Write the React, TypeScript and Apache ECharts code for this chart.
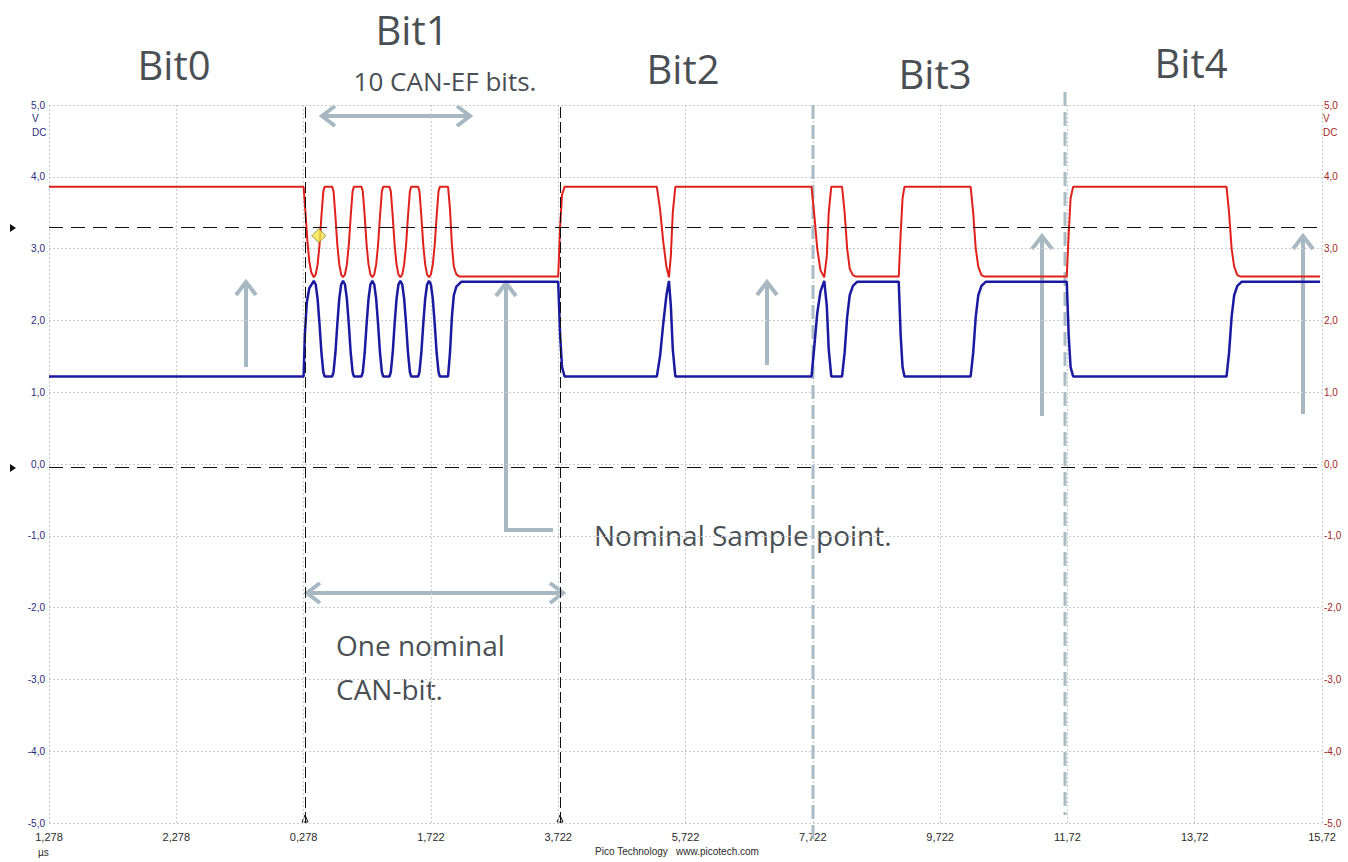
import React, { useEffect, useRef } from "react";
import * as echarts from "echarts";

// Time axis: microseconds from the left edge of the screen (10 divisions of 2 µs)
const timeTickLabels = ["1,278", "2,278", "0,278", "1,722", "3,722", "5,722", "7,722", "9,722", "11,72", "13,72", "15,72"];

// CAN-H (red) trace, [time µs, volts]
const canHigh: [number, number][] = [
  [0, 3.86], [4.0, 3.86], [4.03, 3.5], [4.06, 3.1], [4.09, 2.82], [4.12, 2.67], [4.16, 2.6],
  [4.19, 2.64], [4.22, 2.78], [4.25, 3.05], [4.28, 3.45], [4.31, 3.8], [4.33, 3.86],
  [4.45, 3.86], [4.47, 3.8], [4.5, 3.45], [4.53, 3.05], [4.56, 2.78], [4.59, 2.64], [4.62, 2.6],
  [4.65, 2.64], [4.68, 2.78], [4.71, 3.05], [4.74, 3.45], [4.77, 3.8], [4.79, 3.86],
  [4.91, 3.86], [4.93, 3.8], [4.96, 3.45], [4.99, 3.05], [5.02, 2.78], [5.05, 2.64], [5.08, 2.6],
  [5.11, 2.64], [5.14, 2.78], [5.17, 3.05], [5.2, 3.45], [5.23, 3.8], [5.25, 3.86],
  [5.35, 3.86], [5.37, 3.8], [5.4, 3.45], [5.43, 3.05], [5.46, 2.78], [5.49, 2.64], [5.52, 2.6],
  [5.55, 2.64], [5.58, 2.78], [5.61, 3.05], [5.64, 3.45], [5.67, 3.8], [5.69, 3.86],
  [5.8, 3.86], [5.82, 3.8], [5.85, 3.45], [5.88, 3.05], [5.91, 2.78], [5.94, 2.64], [5.97, 2.6],
  [6.0, 2.64], [6.03, 2.78], [6.06, 3.05], [6.09, 3.45], [6.12, 3.8], [6.14, 3.86],
  [6.27, 3.86], [6.3, 3.55], [6.33, 3.05], [6.36, 2.75], [6.4, 2.64], [6.45, 2.61],
  [8.0, 2.61], [8.03, 3.3], [8.06, 3.75], [8.1, 3.86],
  [9.55, 3.86], [9.6, 3.55], [9.65, 3.1], [9.7, 2.75], [9.74, 2.6], [9.77, 2.9], [9.8, 3.5], [9.84, 3.86],
  [11.98, 3.86], [12.02, 3.5], [12.07, 3.0], [12.12, 2.7], [12.18, 2.6], [12.22, 2.9], [12.25, 3.5], [12.29, 3.86],
  [12.46, 3.86], [12.5, 3.5], [12.54, 3.0], [12.58, 2.72], [12.63, 2.63], [12.68, 2.61],
  [13.35, 2.61], [13.38, 3.2], [13.41, 3.7], [13.44, 3.86],
  [14.48, 3.86], [14.52, 3.5], [14.56, 3.0], [14.6, 2.75], [14.65, 2.63], [14.7, 2.61],
  [15.99, 2.61], [16.02, 3.2], [16.05, 3.7], [16.09, 3.86],
  [18.5, 3.86], [18.54, 3.5], [18.58, 3.0], [18.62, 2.75], [18.67, 2.63], [18.72, 2.61],
  [19.97, 2.61],
];

// CAN-L (blue) trace, [time µs, volts]
const canLow: [number, number][] = [
  [0, 1.22], [4.0, 1.22], [4.02, 1.8], [4.05, 2.25], [4.09, 2.45], [4.16, 2.55],
  [4.19, 2.5], [4.22, 2.3], [4.25, 1.95], [4.28, 1.55], [4.31, 1.28], [4.33, 1.22],
  [4.45, 1.22], [4.47, 1.28], [4.5, 1.55], [4.53, 1.95], [4.56, 2.3], [4.59, 2.5], [4.62, 2.55],
  [4.65, 2.5], [4.68, 2.3], [4.71, 1.95], [4.74, 1.55], [4.77, 1.28], [4.79, 1.22],
  [4.91, 1.22], [4.93, 1.28], [4.96, 1.55], [4.99, 1.95], [5.02, 2.3], [5.05, 2.5], [5.08, 2.55],
  [5.11, 2.5], [5.14, 2.3], [5.17, 1.95], [5.2, 1.55], [5.23, 1.28], [5.25, 1.22],
  [5.35, 1.22], [5.37, 1.28], [5.4, 1.55], [5.43, 1.95], [5.46, 2.3], [5.49, 2.5], [5.52, 2.55],
  [5.55, 2.5], [5.58, 2.3], [5.61, 1.95], [5.64, 1.55], [5.67, 1.28], [5.69, 1.22],
  [5.8, 1.22], [5.82, 1.28], [5.85, 1.55], [5.88, 1.95], [5.91, 2.3], [5.94, 2.5], [5.97, 2.55],
  [6.0, 2.5], [6.03, 2.3], [6.06, 1.95], [6.09, 1.55], [6.12, 1.28], [6.14, 1.22],
  [6.27, 1.22], [6.3, 1.55], [6.33, 2.05], [6.36, 2.35], [6.4, 2.47], [6.48, 2.54],
  [8.0, 2.54], [8.03, 1.8], [8.06, 1.35], [8.1, 1.22],
  [9.55, 1.22], [9.6, 1.5], [9.65, 1.95], [9.7, 2.35], [9.74, 2.55], [9.77, 2.2], [9.8, 1.6], [9.84, 1.22],
  [11.98, 1.22], [12.02, 1.6], [12.07, 2.1], [12.12, 2.4], [12.18, 2.55], [12.22, 2.2], [12.25, 1.6], [12.29, 1.22],
  [12.46, 1.22], [12.5, 1.55], [12.54, 2.05], [12.58, 2.35], [12.63, 2.48], [12.7, 2.54],
  [13.35, 2.54], [13.38, 1.8], [13.41, 1.35], [13.44, 1.22],
  [14.48, 1.22], [14.52, 1.55], [14.56, 2.05], [14.6, 2.35], [14.65, 2.48], [14.72, 2.54],
  [15.99, 2.54], [16.02, 1.8], [16.05, 1.35], [16.09, 1.22],
  [18.5, 1.22], [18.54, 1.55], [18.58, 2.05], [18.62, 2.35], [18.67, 2.48], [18.74, 2.54],
  [19.97, 2.54],
];

// Trigger / threshold horizontal dashed lines (volts) and time cursors (µs)
const thresholdLevels = [3.3, -0.04];
const cursorTimes = [4.02, 8.03];
const triggerPoint: [number, number] = [4.24, 3.18];

const fmtVolt = (v: number) => v.toFixed(1).replace(".", ",");

const ARROW = "#a7b8c2";
const TXT = "#4a4f54";

function upArrow(x: number, yTop: number, yBottom: number) {
  return [
    { type: "line", shape: { x1: x, y1: yTop + 2, x2: x, y2: yBottom }, style: { stroke: ARROW, lineWidth: 4 } },
    { type: "polyline", shape: { points: [[x - 10, yTop + 13], [x, yTop], [x + 10, yTop + 13]] }, style: { stroke: ARROW, lineWidth: 4, fill: null } },
  ];
}
function doubleArrow(x1: number, x2: number, y: number) {
  return [
    { type: "line", shape: { x1: x1 + 2, y1: y, x2: x2 - 2, y2: y }, style: { stroke: ARROW, lineWidth: 4 } },
    { type: "polyline", shape: { points: [[x1 + 13, y - 10], [x1, y], [x1 + 13, y + 10]] }, style: { stroke: ARROW, lineWidth: 4, fill: null } },
    { type: "polyline", shape: { points: [[x2 - 13, y - 10], [x2, y], [x2 - 13, y + 10]] }, style: { stroke: ARROW, lineWidth: 4, fill: null } },
  ];
}
function bigText(text: string, x: number, y: number, size: number, align = "center") {
  return {
    type: "text", x, y,
    style: { text, fill: TXT, font: `${size}px "Open Sans", sans-serif`, align, verticalAlign: "middle" },
  };
}
function smallText(text: string, x: number, y: number, color: string, align = "left") {
  return {
    type: "text", x, y,
    style: { text, fill: color, font: `10px "Liberation Sans", Arial, sans-serif`, align, verticalAlign: "middle" },
  };
}

export default function App() {
  const ref = useRef<HTMLDivElement>(null);
  useEffect(() => {
    if (!ref.current) return;
    const chart = echarts.init(ref.current, undefined, { renderer: "svg" });
    const gridLine = { show: true, lineStyle: { color: "#c9cdd2", type: [2, 2], width: 1 } };
    const option: any = {
      animation: false,
      backgroundColor: "#ffffff",
      grid: { left: 49, right: 26, top: 105, bottom: 39, containLabel: false },
      xAxis: {
        type: "value", min: 0, max: 20, interval: 2,
        axisLine: { show: false }, axisTick: { show: false },
        splitLine: gridLine,
        axisLabel: {
          color: "#2a2a2a", fontSize: 11, fontFamily: "Liberation Sans, Arial, sans-serif", margin: 8,
          formatter: (v: number) => timeTickLabels[Math.round(v / 2)] ?? "",
        },
      },
      yAxis: [
        {
          type: "value", min: -5, max: 5, interval: 1, position: "left",
          axisLine: { show: false }, axisTick: { show: false },
          splitLine: gridLine,
          axisLabel: { color: "#2b2b7a", fontSize: 10, fontFamily: "Liberation Sans, Arial, sans-serif", margin: 4, formatter: fmtVolt },
        },
        {
          type: "value", min: -5, max: 5, interval: 1, position: "right",
          axisLine: { show: false }, axisTick: { show: false }, splitLine: { show: false },
          axisLabel: { color: "#a02828", fontSize: 10, fontFamily: "Liberation Sans, Arial, sans-serif", margin: 2, formatter: fmtVolt },
        },
      ],
      series: [
        {
          name: "CAN-L", type: "line", data: canLow, showSymbol: false, symbol: "none",
          lineStyle: { color: "#1a1aa0", width: 2.5 }, z: 3,
        },
        {
          name: "CAN-H", type: "line", data: canHigh, showSymbol: false, symbol: "none",
          lineStyle: { color: "#e0201a", width: 2 }, z: 4,
          markLine: {
            silent: true, symbol: ["none", "none"], label: { show: false },
            data: [
              ...thresholdLevels.map((v) => ({ yAxis: v, lineStyle: { color: "#111", type: [14, 8], width: 1 } })),
              ...cursorTimes.map((t) => ({ xAxis: t, lineStyle: { color: "#111", type: [11, 4], width: 1 } })),
            ],
          },
        },
        {
          name: "Trigger", type: "scatter", data: [triggerPoint], symbol: "diamond", symbolSize: [14, 14],
          itemStyle: { color: "#f3e64a", borderColor: "#8c7d22", borderWidth: 1 }, z: 6,
        },
      ],
      graphic: [
        // gray dashed bit-boundary markers
        { type: "line", shape: { x1: 813, y1: 105, x2: 813, y2: 842 }, style: { stroke: "#a9bcc6", lineWidth: 3, lineDash: [14, 6] }, z: 1 },
        { type: "line", shape: { x1: 1065, y1: 92, x2: 1065, y2: 815 }, style: { stroke: "#a9bcc6", lineWidth: 3, lineDash: [14, 6] }, z: 1 },
        // left level markers
        { type: "polygon", shape: { points: [[10, 224], [16, 228], [10, 232]] }, style: { fill: "#111" } },
        { type: "polygon", shape: { points: [[10, 464], [16, 468], [10, 472]] }, style: { fill: "#111" } },
        // cursor foot triangles
        { type: "polygon", shape: { points: [[302, 822], [305, 815], [308, 822]] }, style: { fill: "#fff", stroke: "#111", lineWidth: 1 } },
        { type: "polygon", shape: { points: [[557, 822], [560, 815], [563, 822]] }, style: { fill: "#fff", stroke: "#111", lineWidth: 1 } },
        // arrows
        ...upArrow(246, 282, 367),
        ...upArrow(767, 282, 365),
        ...upArrow(1042, 236, 416),
        ...upArrow(1303, 236, 414),
        ...upArrow(506, 283, 532),
        { type: "line", shape: { x1: 504, y1: 530, x2: 553, y2: 530 }, style: { stroke: ARROW, lineWidth: 4 } },
        ...doubleArrow(322, 470, 116),
        ...doubleArrow(307, 563, 593),
        // annotation texts
        bigText("Bit0", 174, 64, 40),
        bigText("Bit1", 412, 29, 40),
        bigText("10 CAN-EF bits.", 445, 81, 26),
        bigText("Bit2", 683, 68, 40),
        bigText("Bit3", 935, 73, 40),
        bigText("Bit4", 1191, 62, 40),
        bigText("Nominal Sample point.", 594, 535, 28, "left"),
        bigText("One nominal", 336, 645, 28, "left"),
        bigText("CAN-bit.", 336, 689, 28, "left"),
        // scope small labels
        smallText("V", 32, 118, "#2b2b7a"),
        smallText("DC", 32, 132, "#2b2b7a"),
        smallText("V", 1323, 118, "#a02828"),
        smallText("DC", 1323, 132, "#a02828"),
        smallText("µs", 38, 852, "#2a2a2a"),
        smallText("Pico Technology   www.picotech.com", 677, 851, "#2a2a2a", "center"),
      ],
    };
    chart.setOption(option);
    return () => chart.dispose();
  }, []);
  return (
    <div
      ref={ref}
      style={{ position: "absolute", left: 0, top: 0, width: 1348, height: 862, background: "#fff" }}
    />
  );
}
